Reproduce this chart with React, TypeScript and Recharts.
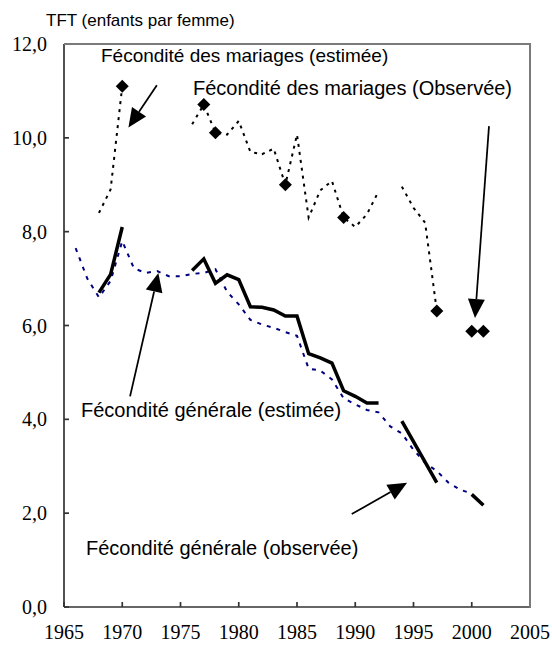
import {
  ComposedChart,
  Line,
  ReferenceLine,
  Scatter,
  XAxis,
  YAxis
} from 'recharts';

const xTicks = [1965, 1970, 1975, 1980, 1985, 1990, 1995, 2000, 2005];
const yTicks = [0, 2, 4, 6, 8, 10, 12];

// Fécondité générale (observée) - null marks a break in the line
const genObsYears = [1968, 1969, 1970, 1971, 1976, 1977, 1978, 1979, 1980, 1981, 1982, 1983, 1984, 1985, 1986, 1987, 1988, 1989, 1990, 1991, 1992, 1993, 1994, 1997, 1999, 2000, 2001];
const genObsValues = [6.7, 7.09, 8.1, null, 7.17, 7.42, 6.9, 7.08, 6.98, 6.4, 6.39, 6.33, 6.2, 6.2, 5.4, 5.31, 5.2, 4.61, 4.49, 4.35, 4.35, null, 3.96, 2.65, null, 2.4, 2.17];

// Fécondité générale (estimée)
const genEstYears = [1966, 1967, 1968, 1969, 1970, 1971, 1972, 1973, 1974, 1975, 1976, 1977, 1978, 1979, 1980, 1981, 1982, 1983, 1984, 1985, 1986, 1987, 1988, 1989, 1990, 1991, 1992, 1993, 1994, 1995, 1996, 1997, 1998, 1999, 2000];
const genEstValues = [7.65, 7.0, 6.6, 6.95, 7.8, 7.22, 7.12, 7.16, 7.05, 7.05, 7.1, 7.12, 7.2, 6.72, 6.45, 6.12, 6.02, 5.95, 5.86, 5.78, 5.08, 5.04, 4.85, 4.45, 4.32, 4.2, 4.15, 3.85, 3.7, 3.35, 3.07, 2.9, 2.65, 2.5, 2.42];

// Fécondité des mariages (estimée)
const marEstYears = [1968, 1969, 1970, 1971, 1976, 1977, 1978, 1979, 1980, 1981, 1982, 1983, 1984, 1985, 1986, 1987, 1988, 1989, 1990, 1991, 1992, 1993, 1994, 1995, 1996, 1997];
const marEstValues = [8.4, 8.9, 11.1, null, 10.29, 10.71, 10.11, 10.07, 10.36, 9.7, 9.65, 9.77, 9.0, 10.07, 8.3, 8.88, 9.08, 8.3, 8.1, 8.37, 8.86, null, 8.96, 8.51, 8.19, 6.31];

// Fécondité des mariages (observée)
const marObsYears = [1970, 1977, 1978, 1984, 1989, 1997, 2000, 2001];
const marObsValues = [11.1, 10.71, 10.11, 9.0, 8.3, 6.31, 5.88, 5.88];

const zip = (years: number[], values: (number | null)[]) =>
  years.map((year, i) => ({ year, v: values[i] }));

const genObs = zip(genObsYears, genObsValues);
const genEst = zip(genEstYears, genEstValues);
const marEst = zip(marEstYears, marEstValues);
const marObs = zip(marObsYears, marObsValues);

// annotation arrows: [tail, tip] in data units
const arrows = [
  [{ x: 1972.97, y: 11.12 }, { x: 1970.53, y: 10.22 }],
  [{ x: 2001.48, y: 10.25 }, { x: 2000.28, y: 6.16 }],
  [{ x: 1970.67, y: 4.49 }, { x: 1973.1, y: 7.12 }],
  [{ x: 1989.7, y: 1.98 }, { x: 1994.45, y: 2.65 }]
];

const sans = '"Liberation Sans", Arial, sans-serif';
const serif = '"Liberation Serif", "Times New Roman", serif';
const frame = { stroke: '#7a7a7a', strokeWidth: 2 };

function Arrow(props: any) {
  const { x1, y1, x2, y2 } = props;
  const dx = x2 - x1;
  const dy = y2 - y1;
  const len = Math.hypot(dx, dy) || 1;
  const ux = dx / len;
  const uy = dy / len;
  const L = 19;
  const W = 8.5;
  const bx = x2 - ux * L;
  const by = y2 - uy * L;
  const pts = `${x2},${y2} ${bx - uy * W},${by + ux * W} ${bx + uy * W},${by - ux * W}`;
  return (
    <g>
      <line x1={x1} y1={y1} x2={bx} y2={by} stroke="#000" strokeWidth={1.75} />
      <polygon points={pts} fill="#000" />
    </g>
  );
}

function Diamond(props: any) {
  const { cx, cy } = props;
  const r = 6.5;
  return <polygon points={`${cx},${cy - r} ${cx + r},${cy} ${cx},${cy + r} ${cx - r},${cy}`} fill="#000" />;
}

const label = (text: string, left: number, top: number, size = 20) => (
  <div
    style={{
      position: 'absolute',
      left,
      top,
      fontFamily: sans,
      fontSize: size,
      lineHeight: `${size}px`,
      whiteSpace: 'nowrap',
      color: '#000'
    }}
  >
    {text}
  </div>
);

export default function App() {
  return (
    <div style={{ position: 'absolute', left: 0, top: 0, width: 552, height: 646, background: '#fff', fontFamily: serif }}>
      <ComposedChart width={552} height={646} margin={{ top: 44, right: 22, bottom: 0, left: 0 }}>
        <XAxis
          type="number"
          dataKey="year"
          domain={[1965, 2005]}
          ticks={xTicks}
          height={39}
          tickSize={-5}
          tickMargin={23}
          stroke="#333"
          strokeWidth={1.7}
          tick={{ fill: '#000', fontFamily: serif, fontSize: 20 }}
        />
        <XAxis
          xAxisId="frame"
          orientation="top"
          type="number"
          dataKey="year"
          domain={[1965, 2005]}
          height={0}
          tick={false}
          tickLine={false}
          axisLine={frame}
        />
        <YAxis
          type="number"
          domain={[0, 12]}
          ticks={yTicks}
          width={64}
          tickSize={-5}
          tickMargin={22}
          stroke="#333"
          strokeWidth={1.7}
          tickFormatter={(v: number) => v.toFixed(1).replace('.', ',')}
          tick={{ fill: '#000', fontFamily: serif, fontSize: 20 }}
        />
        <YAxis
          yAxisId="frame"
          orientation="right"
          type="number"
          domain={[0, 12]}
          width={0}
          tick={false}
          tickLine={false}
          axisLine={frame}
        />
        <Line
          data={genEst}
          dataKey="v"
          type="linear"
          stroke="#000080"
          strokeWidth={2}
          strokeDasharray="4 6"
          dot={false}
          activeDot={false}
          isAnimationActive={false}
        />
        <Line
          data={marEst}
          dataKey="v"
          type="linear"
          stroke="#000"
          strokeWidth={2}
          strokeDasharray="3 5"
          dot={false}
          activeDot={false}
          isAnimationActive={false}
        />
        <Line
          data={genObs}
          dataKey="v"
          type="linear"
          stroke="#000"
          strokeWidth={3.5}
          dot={false}
          activeDot={false}
          isAnimationActive={false}
        />
        <Scatter data={marObs} dataKey="v" shape={Diamond} isAnimationActive={false} />
        {arrows.map((seg, i) => (
          <ReferenceLine key={i} segment={seg} shape={Arrow} ifOverflow="visible" />
        ))}
      </ComposedChart>
      {/* grey frame on the top and right of the plot area */}
      <div
        style={{
          position: 'absolute',
          left: 64,
          top: 43,
          width: 467,
          height: 565,
          boxSizing: 'border-box',
          borderTop: '2px solid #7a7a7a',
          borderRight: '2px solid #7a7a7a',
          pointerEvents: 'none',
          zIndex: 2
        }}
      />
      {label('TFT (enfants par femme)', 46, 12, 17)}
      {label('Fécondité des mariages (estimée)', 101, 46, 19)}
      {label('Fécondité des mariages (Observée)', 193, 78)}
      {label('Fécondité générale (estimée)', 81, 400)}
      {label('Fécondité générale (observée)', 86, 538)}
    </div>
  );
}
